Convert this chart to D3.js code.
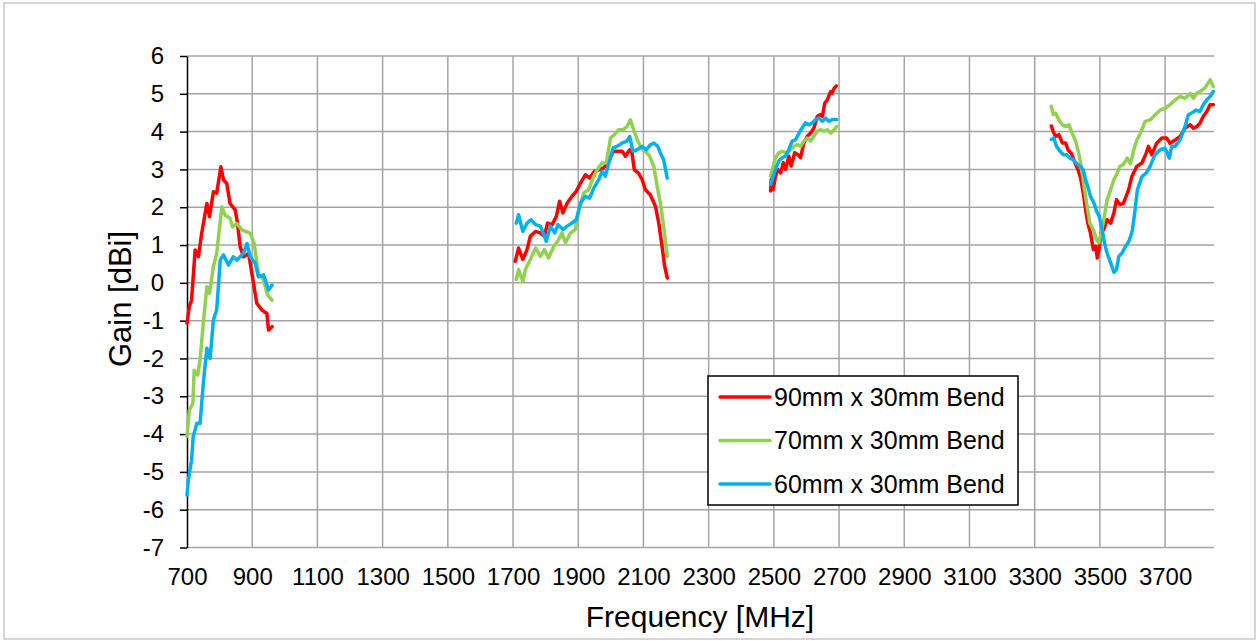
<!DOCTYPE html>
<html>
<head>
<meta charset="utf-8">
<script src="https://cdnjs.cloudflare.com/ajax/libs/d3/7.8.5/d3.min.js"></script>
<style>
    body { margin: 0; background: #fff; }
    text { font-family: "Liberation Sans", Arial, sans-serif; fill: #000; }
</style>
</head>
<body>
<svg id="gain_svg" width="1258" height="641"></svg>
<script>
// series names + colours
var seriesNames = ["90mm x 30mm Bend", "70mm x 30mm Bend", "60mm x 30mm Bend"];
var seriesColors = ["#ff0000", "#92d050", "#00b0f0"];

var xTicks = [700, 900, 1100, 1300, 1500, 1700, 1900, 2100, 2300, 2500, 2700, 2900, 3100, 3300, 3500, 3700];
var yTicks = [-7, -6, -5, -4, -3, -2, -1, 0, 1, 2, 3, 4, 5, 6];

// [MHz, dBi], null gain = gap between bands
var gain90 = [
    [700, -1.07], [707, -0.63], [714, -0.46], [725, 0.87], [735, 0.69], [745, 1.31], [761, 2.1], [769, 1.75],
    [781, 2.41], [791, 2.37], [804, 3.07], [812, 2.72], [822, 2.63], [832, 2.1], [848, 1.93], [855, 1.57],
    [863, 0.96], [873, 0.69], [889, 0.78], [899, 0.25], [914, -0.54], [930, -0.72], [945, -0.81], [950, -1.25], [961, -1.16],
    [1300, null],
    [1707, 0.57], [1717, 0.92], [1730, 0.62], [1743, 0.88], [1753, 1.23], [1769, 1.36], [1784, 1.32], [1796, 1.23],
    [1806, 1.58], [1820, 1.54], [1833, 1.76], [1843, 2.16], [1853, 1.85], [1866, 2.11], [1881, 2.29], [1894, 2.42],
    [1907, 2.64], [1922, 2.86], [1935, 2.77], [1950, 2.95], [1963, 2.99], [1978, 3.04], [1994, 3.21], [2007, 3.48],
    [2019, 3.48], [2035, 3.48], [2045, 3.35], [2058, 3.52], [2065, 3.43], [2072, 2.99], [2085, 2.9], [2096, 2.73],
    [2106, 2.46], [2121, 2.33], [2137, 2.02], [2147, 1.58], [2157, 0.97], [2165, 0.44], [2173, 0.13],
    [2300, null],
    [2490, 2.43], [2492, 2.74], [2498, 2.47], [2505, 2.82], [2512, 3.0], [2521, 2.91], [2529, 3.18], [2536, 3.0],
    [2546, 3.35], [2553, 3.09], [2564, 3.44], [2574, 3.39], [2582, 3.31], [2592, 3.7], [2603, 3.88], [2613, 3.96],
    [2623, 4.1], [2633, 4.4], [2642, 4.45], [2649, 4.4], [2656, 4.75], [2664, 4.84], [2674, 5.06], [2679, 5.02],
    [2685, 5.15], [2692, 5.21],
    [3000, null],
    [3351, 4.15], [3357, 4.0], [3364, 3.87], [3374, 3.92], [3385, 3.7], [3395, 3.7], [3402, 3.52], [3412, 3.43],
    [3422, 3.21], [3433, 2.99], [3441, 2.77], [3449, 2.38], [3456, 1.94], [3463, 1.58], [3471, 1.32], [3480, 0.88],
    [3487, 0.97], [3492, 0.66], [3497, 0.88], [3504, 1.32], [3512, 1.41], [3522, 1.67], [3533, 1.58], [3543, 1.85],
    [3551, 2.2], [3561, 2.07], [3572, 2.1], [3588, 2.46], [3598, 2.81], [3613, 3.08], [3629, 3.17], [3642, 3.43],
    [3649, 3.61], [3659, 3.39], [3674, 3.69], [3690, 3.83], [3705, 3.83], [3715, 3.69], [3731, 3.78], [3746, 3.87],
    [3761, 4.09], [3777, 4.18], [3787, 4.09], [3797, 4.13], [3807, 4.22], [3817, 4.4], [3828, 4.53], [3838, 4.71], [3848, 4.71]
];

var gain70 = [
    [700, -4.07], [707, -3.37], [718, -3.19], [722, -2.31], [733, -2.44], [740, -2.04], [750, -1.07], [761, -0.1],
    [769, -0.28], [781, 0.43], [791, 0.78], [807, 2.01], [817, 1.79], [832, 1.71], [840, 1.48], [853, 1.57],
    [868, 1.4], [884, 1.35], [894, 1.31], [906, 1.04], [919, 0.25], [935, 0.07], [947, -0.32], [961, -0.46],
    [1300, null],
    [1710, 0.09], [1717, 0.35], [1730, 0.04], [1738, 0.35], [1753, 0.62], [1769, 0.92], [1784, 0.7], [1796, 0.88],
    [1809, 0.66], [1825, 0.97], [1837, 1.1], [1850, 1.32], [1861, 1.06], [1876, 1.32], [1891, 1.41], [1902, 1.94],
    [1917, 2.38], [1932, 2.46], [1945, 2.77], [1958, 2.99], [1973, 3.17], [1986, 3.17], [1999, 3.83], [2011, 3.92],
    [2024, 4.05], [2038, 4.05], [2050, 4.14], [2060, 4.31], [2070, 4.05], [2081, 3.79], [2093, 3.57], [2106, 3.48],
    [2119, 3.35], [2132, 3.08], [2142, 2.55], [2152, 2.11], [2162, 1.5], [2173, 0.7],
    [2300, null],
    [2490, 2.82], [2498, 3.09], [2505, 3.31], [2515, 3.44], [2526, 3.48], [2536, 3.44], [2546, 3.48], [2553, 3.53],
    [2562, 3.61], [2572, 3.66], [2582, 3.61], [2592, 3.75], [2603, 3.83], [2613, 3.75], [2623, 3.88], [2633, 4.01],
    [2644, 4.05], [2654, 4.01], [2664, 4.05], [2674, 3.96], [2685, 4.05], [2693, 4.14],
    [3000, null],
    [3351, 4.67], [3357, 4.45], [3364, 4.49], [3374, 4.31], [3385, 4.18], [3395, 4.14], [3405, 4.18], [3415, 3.96],
    [3426, 3.74], [3436, 3.39], [3446, 2.9], [3453, 2.46], [3461, 2.02], [3469, 1.58], [3480, 1.41], [3490, 1.14],
    [3497, 1.06], [3504, 1.32], [3512, 1.67], [3522, 2.2], [3533, 2.46], [3543, 2.73], [3553, 2.9], [3561, 3.08],
    [3572, 3.13], [3584, 3.3], [3594, 3.15], [3604, 3.52], [3614, 3.79], [3623, 3.93], [3639, 4.27], [3654, 4.31],
    [3669, 4.44], [3685, 4.57], [3700, 4.62], [3715, 4.71], [3731, 4.84], [3746, 4.93], [3761, 4.88], [3777, 5.01],
    [3787, 4.88], [3797, 5.01], [3807, 5.06], [3822, 5.15], [3838, 5.37], [3848, 5.19]
];

var gain60 = [
    [700, -5.61], [704, -5.22], [714, -4.69], [719, -4.07], [730, -3.72], [740, -3.72], [750, -2.66], [761, -1.73],
    [771, -2.0], [781, -0.98], [791, -0.72], [802, 0.6], [812, 0.74], [827, 0.47], [842, 0.69], [853, 0.6],
    [863, 0.69], [873, 0.78], [884, 1.04], [894, 0.69], [909, 0.52], [919, 0.16], [935, 0.21], [950, -0.19], [961, -0.06],
    [1300, null],
    [1710, 1.58], [1717, 1.8], [1730, 1.36], [1743, 1.58], [1755, 1.67], [1769, 1.54], [1784, 1.5], [1802, 1.1],
    [1815, 1.5], [1828, 1.32], [1838, 1.54], [1853, 1.41], [1866, 1.5], [1881, 1.58], [1894, 1.67], [1907, 2.11],
    [1922, 2.29], [1935, 2.24], [1948, 2.51], [1963, 2.73], [1973, 2.95], [1983, 2.82], [1997, 3.26], [2007, 3.57],
    [2019, 3.61], [2035, 3.7], [2048, 3.74], [2058, 3.87], [2068, 3.48], [2081, 3.52], [2096, 3.61], [2109, 3.52],
    [2121, 3.65], [2132, 3.7], [2144, 3.61], [2154, 3.39], [2162, 3.26], [2173, 2.77],
    [2300, null],
    [2490, 2.6], [2495, 2.74], [2505, 3.0], [2515, 3.22], [2526, 3.31], [2536, 3.35], [2546, 3.53], [2556, 3.75],
    [2567, 3.79], [2577, 3.96], [2587, 4.1], [2597, 4.23], [2608, 4.18], [2618, 4.23], [2628, 4.32], [2638, 4.36],
    [2649, 4.27], [2659, 4.36], [2669, 4.27], [2679, 4.32], [2693, 4.32],
    [3000, null],
    [3351, 3.79], [3359, 3.83], [3367, 3.61], [3378, 3.48], [3388, 3.39], [3398, 3.39], [3408, 3.3], [3418, 3.26],
    [3431, 3.13], [3441, 3.08], [3449, 2.99], [3456, 2.73], [3463, 2.55], [3471, 2.29], [3482, 2.11], [3490, 1.89],
    [3498, 1.76], [3507, 1.41], [3514, 1.06], [3522, 0.79], [3533, 0.53], [3543, 0.28], [3551, 0.35], [3558, 0.7],
    [3568, 0.79], [3579, 0.97], [3589, 1.1], [3599, 1.36], [3606, 1.8], [3615, 2.46], [3629, 2.81], [3642, 2.9],
    [3654, 3.08], [3669, 3.39], [3685, 3.52], [3700, 3.56], [3713, 3.3], [3720, 3.61], [3731, 3.61], [3746, 3.78],
    [3761, 4.13], [3771, 4.44], [3781, 4.49], [3795, 4.57], [3807, 4.53], [3817, 4.71], [3828, 4.84], [3838, 4.93], [3848, 5.06]
];

var allSeries = [gain90, gain70, gain60];

function drawGainChart() {
    var svg = d3.select("#gain_svg");
    var margin = { top: 56, bottom: 93.5, right: 44, left: 187 };
    var width = +svg.attr("width");
    var height = +svg.attr("height");
    var innerWidth = width - margin.left - margin.right;
    var innerHeight = height - margin.top - margin.bottom;

    // outer frame
    svg.append("rect")
        .attr("x", 4).attr("y", 3)
        .attr("width", 1251).attr("height", 636)
        .attr("fill", "#fff")
        .attr("stroke", "#c8c8c8")
        .attr("stroke-width", 1.5);

    var g = svg.append("g")
        .attr("transform", "translate(" + margin.left + "," + margin.top + ")");

    var x = d3.scaleLinear().domain([700, 3850]).range([0, innerWidth]);
    var y = d3.scaleLinear().domain([-7, 6]).range([innerHeight, 0]);

    // gridlines
    g.append("g")
        .selectAll("line")
        .data(yTicks)
        .enter()
        .append("line")
        .attr("x1", 0).attr("x2", innerWidth)
        .attr("y1", d => y(d)).attr("y2", d => y(d))
        .attr("stroke", "#a5a5a5")
        .attr("stroke-width", 1.5);

    g.append("g")
        .selectAll("line")
        .data(xTicks.slice(1))
        .enter()
        .append("line")
        .attr("x1", d => x(d)).attr("x2", d => x(d))
        .attr("y1", 0).attr("y2", innerHeight)
        .attr("stroke", "#a5a5a5")
        .attr("stroke-width", 1.5);

    // y axis, plain hyphen for negatives like the original
    var yAxis = g.append("g")
        .call(d3.axisLeft(y).tickValues(yTicks).tickSize(7).tickPadding(16).tickSizeOuter(0)
            .tickFormat(d => String(d)));
    yAxis.select(".domain").attr("stroke", "#000").attr("stroke-width", 1.5);
    yAxis.selectAll(".tick line").attr("stroke", "#000").attr("stroke-width", 1.5);
    yAxis.selectAll("text")
        .style("font-size", "24px")
        .style("font-family", "'Liberation Sans', Arial, sans-serif");

    // x axis labels (no ticks)
    var xAxis = g.append("g")
        .attr("transform", "translate(0," + innerHeight + ")")
        .call(d3.axisBottom(x).tickValues(xTicks).tickSize(0).tickPadding(20).tickFormat(d => String(d)));
    xAxis.select(".domain").remove();
    xAxis.selectAll("text")
        .style("font-size", "24px")
        .style("font-family", "'Liberation Sans', Arial, sans-serif");

    var line = d3.line()
        .defined(d => d[1] !== null)
        .x(d => x(d[0]))
        .y(d => y(d[1]));

    g.selectAll(".gain-line")
        .data(allSeries)
        .enter()
        .append("path")
        .attr("class", "gain-line")
        .attr("fill", "none")
        .attr("stroke", (d, i) => seriesColors[i])
        .attr("stroke-width", 3.5)
        .attr("stroke-linejoin", "round")
        .attr("stroke-linecap", "round")
        .attr("d", line);

    // axis titles
    svg.append("text")
        .attr("x", 700)
        .attr("y", 627)
        .attr("text-anchor", "middle")
        .style("font-size", "30px")
        .text("Frequency [MHz]");

    svg.append("text")
        .attr("transform", "translate(131,299) rotate(-90)")
        .attr("text-anchor", "middle")
        .style("font-size", "31px")
        .text("Gain [dBi]");

    // legend
    var legend = svg.append("g").attr("transform", "translate(708,376)");
    legend.append("rect")
        .attr("width", 310).attr("height", 129)
        .attr("fill", "#fff")
        .attr("stroke", "#000")
        .attr("stroke-width", 1.5);

    var legendItems = legend.selectAll(".legend-item")
        .data(seriesNames)
        .enter()
        .append("g")
        .attr("class", "legend-item")
        .attr("transform", (d, i) => "translate(0," + (21 + i * 43.5) + ")");

    legendItems.append("line")
        .attr("x1", 12).attr("x2", 62)
        .attr("stroke", (d, i) => seriesColors[i])
        .attr("stroke-width", 3.5)
        .attr("stroke-linecap", "round");

    legendItems.append("text")
        .attr("x", 66)
        .attr("dy", "0.35em")
        .style("font-size", "25px")
        .text(d => d);
}

drawGainChart();
</script>
</body>
</html>
